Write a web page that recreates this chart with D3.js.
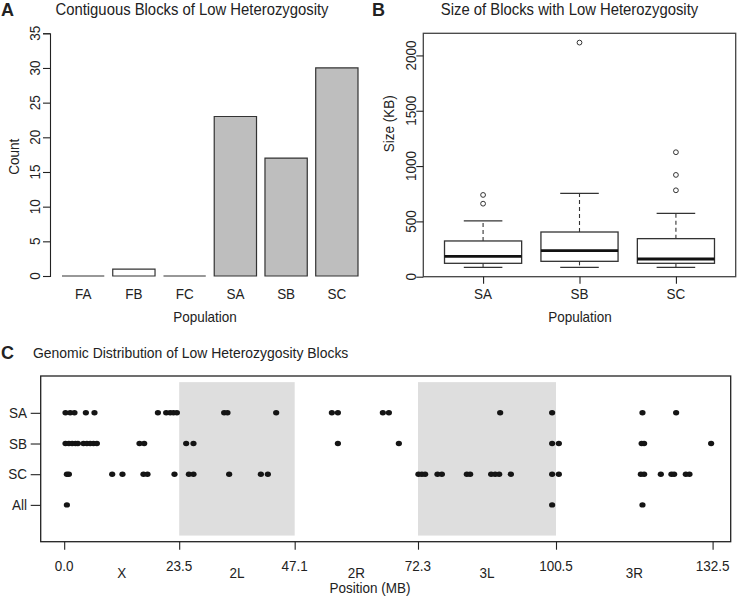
<!DOCTYPE html>
<html>
<head>
<meta charset="utf-8">
<script src="https://cdn.jsdelivr.net/npm/d3@7"></script>
<style>
  html, body { margin: 0; padding: 0; background: #fff; }
  svg { display: block; font-family: "Liberation Sans", Arial, Helvetica, sans-serif; }
</style>
</head>
<body>
<svg id="chart" width="738" height="602"></svg>
<script>
// ---------- Data ----------
// Panel A
const barPops = ["FA", "FB", "FC", "SA", "SB", "SC"];
const barCounts = [0, 1, 0, 23, 17, 30];
const barFill = ["white", "white", "white", "#bebebe", "#bebebe", "#bebebe"];
const countTicks = [0, 5, 10, 15, 20, 25, 30, 35];

// Panel B
const boxPops = ["SA", "SB", "SC"];
const boxLowerWhisker = [85, 85, 85];
const boxQ1 = [121, 139, 121];
const boxMedian = [184, 235, 160];
const boxQ3 = [323, 404, 344];
const boxUpperWhisker = [505, 754, 573];
const outliersSA = [660, 739];
const outliersSB = [2116];
const outliersSC = [781, 920, 1125];
const sizeTicks = [0, 500, 1000, 1500, 2000];

// Panel C
const rowNames = ["SA", "SB", "SC", "All"];
const rowLevels = [4, 3, 2, 1];
const armBreaks = [0.0, 23.5, 47.1, 72.3, 100.5, 132.5];
const armBreakLabels = ["0.0", "23.5", "47.1", "72.3", "100.5", "132.5"];
const armNames = ["X", "2L", "2R", "3L", "3R"];
const armShaded = [false, true, false, true, false];
const posSA = [0.27, 1.23, 2.1, 4.43, 6.19, 19.15, 20.84, 21.66, 22.33, 23.03, 32.69, 33.37, 43.32,
  54.7, 55.93, 65.12, 66.35, 89.09, 99.71, 118.17, 125.05];
const posSB = [0.27, 0.96, 1.63, 2.31, 2.8, 3.94, 4.64, 5.31, 5.99, 6.68, 15.39, 16.35, 24.93, 26.42,
  55.93, 68.39, 99.71, 101.08, 118.0, 118.5, 132.2];
const posSC = [0.55, 0.96, 9.81, 11.91, 16.2, 17.02, 22.54, 25.48, 26.42, 33.71, 40.19, 41.62,
  72.39, 73.09, 73.76, 76.28, 77.18, 82.28, 82.96, 87.25, 88.07, 88.89, 91.28, 99.71, 101.08,
  117.84, 118.51, 121.92, 124.09, 124.64, 127.03, 127.77];
const posAll = [0.55, 99.71, 118.17];

// ---------- Drawing ----------
const svg = d3.select("#chart");
const ink = "#222";
const tickFont = 15;
const squeeze = 0.9;   // reference glyphs are tall and narrow

function txt(g, x, y, s, o = {}) {
  const rot = o.rotate ? ` rotate(${o.rotate})` : "";
  const sx = o.sx || squeeze;
  return g.append("text")
    .attr("transform", `translate(${x},${y})${rot} scale(${sx},1)`)
    .attr("text-anchor", o.anchor || "middle")
    .attr("dy", o.dy || null)
    .attr("font-size", o.size || tickFont)
    .attr("font-weight", o.weight || null)
    .attr("fill", ink)
    .text(s);
}

// ===== Panel A =====
const gA = svg.append("g");
const xA = d3.scaleBand().domain(barPops).range([62, 358]).paddingInner(0.2 / 1.2).paddingOuter(0);
const yA = d3.scaleLinear().domain([0, 35]).range([276, 33.3]);

gA.selectAll("path.bar").data(barPops).join("path")
  .attr("class", "bar")
  .attr("d", (d, i) => {
    const x0 = xA(d), x1 = xA(d) + xA.bandwidth(), y0 = yA(0), y1 = yA(barCounts[i]);
    return `M${x0},${y0}V${y1}H${x1}V${y0}Z`;
  })
  .attr("fill", (d, i) => barFill[i])
  .attr("stroke", "#333").attr("stroke-width", 1.2);

const axA = gA.append("g").attr("transform", "translate(50,0)")
  .call(d3.axisLeft(yA).tickValues(countTicks).tickSize(7));
axA.select(".domain").attr("stroke", ink).attr("stroke-width", 1.1);
axA.selectAll(".tick line").attr("stroke", ink).attr("stroke-width", 1.1);
axA.selectAll(".tick text").remove();
countTicks.forEach(v => txt(gA, 35, yA(v), v, { rotate: -90, dy: "0.35em" }));
barPops.forEach(p => txt(gA, xA(p) + xA.bandwidth() / 2, 298.5, p));
txt(gA, 205, 321.5, "Population");
txt(gA, 13.5, 156.7, "Count", { rotate: -90, dy: "0.35em" });
txt(gA, 192, 14.5, "Contiguous Blocks of Low Heterozygosity", { size: 16.5, sx: 0.9 });
txt(gA, 1, 16, "A", { anchor: "start", size: 18, weight: "bold", sx: 1 });

// ===== Panel B =====
const gB = svg.append("g");
const xB = d3.scaleLinear().domain([0.38, 3.62]).range([423.3, 735.7]);
const yB = d3.scaleLinear().domain([0, 2200]).range([276.7, 33.3]);
const boxW = 0.8, capW = 0.4;
const outliers = [outliersSA, outliersSB, outliersSC];

boxPops.forEach((p, i) => {
  const c = i + 1;
  gB.append("line").attr("x1", xB(c)).attr("x2", xB(c))
    .attr("y1", yB(boxQ3[i])).attr("y2", yB(boxUpperWhisker[i]))
    .attr("stroke", "#333").attr("stroke-width", 1.1).attr("stroke-dasharray", "4,3");
  gB.append("line").attr("x1", xB(c)).attr("x2", xB(c))
    .attr("y1", yB(boxQ1[i])).attr("y2", yB(boxLowerWhisker[i]))
    .attr("stroke", "#333").attr("stroke-width", 1.1).attr("stroke-dasharray", "4,3");
  [boxUpperWhisker[i], boxLowerWhisker[i]].forEach(v => {
    gB.append("line").attr("x1", xB(c - capW / 2)).attr("x2", xB(c + capW / 2))
      .attr("y1", yB(v)).attr("y2", yB(v)).attr("stroke", "#333").attr("stroke-width", 1.3);
  });
  gB.append("rect").attr("x", xB(c - boxW / 2)).attr("width", xB(c + boxW / 2) - xB(c - boxW / 2))
    .attr("y", yB(boxQ3[i])).attr("height", yB(boxQ1[i]) - yB(boxQ3[i]))
    .attr("fill", "white").attr("stroke", "#333").attr("stroke-width", 1.3);
  gB.append("line").attr("x1", xB(c - boxW / 2)).attr("x2", xB(c + boxW / 2))
    .attr("y1", yB(boxMedian[i])).attr("y2", yB(boxMedian[i]))
    .attr("stroke", "#111").attr("stroke-width", 2.8);
  gB.selectAll(null).data(outliers[i]).join("circle")
    .attr("cx", xB(c)).attr("cy", d => yB(d)).attr("r", 2.4)
    .attr("fill", "none").attr("stroke", "#333").attr("stroke-width", 1);
});

gB.append("rect").attr("x", 423.3).attr("y", 33.3).attr("width", 735.7 - 423.3).attr("height", 276.7 - 33.3)
  .attr("fill", "none").attr("stroke", "#444").attr("stroke-width", 1.3);

const ayB = gB.append("g").attr("transform", "translate(423.3,0)")
  .call(d3.axisLeft(yB).tickValues(sizeTicks).tickSize(7));
ayB.select(".domain").remove();
ayB.selectAll(".tick line").attr("stroke", ink).attr("stroke-width", 1.1);
ayB.selectAll(".tick text").remove();
sizeTicks.forEach(v => txt(gB, 410.5, yB(v), v, { rotate: -90, dy: "0.35em" }));
const axB = gB.append("g").attr("transform", "translate(0,276.7)")
  .call(d3.axisBottom(xB).tickValues([1, 2, 3]).tickSize(7));
axB.select(".domain").remove();
axB.selectAll(".tick line").attr("stroke", ink).attr("stroke-width", 1.1);
axB.selectAll(".tick text").remove();
boxPops.forEach((p, i) => txt(gB, xB(i + 1), 298.5, p));
txt(gB, 580, 321.5, "Population");
txt(gB, 388.5, 123.7, "Size (KB)", { rotate: -90, dy: "0.35em" });
txt(gB, 569.5, 14.5, "Size of Blocks with Low Heterozygosity", { size: 16.5, sx: 0.9 });
txt(gB, 372, 16, "B", { anchor: "start", size: 18, weight: "bold", sx: 1 });

// ===== Panel C =====
const gC = svg.append("g");
const xC = d3.scaleLinear().domain([-4.8, 136.2]).range([40.7, 730.7]);
const yC = d3.scaleLinear().domain([-0.2, 5.2]).range([541.7, 376]);

armNames.forEach((a, i) => {
  if (armShaded[i]) {
    gC.append("rect").attr("x", xC(armBreaks[i])).attr("width", xC(armBreaks[i + 1]) - xC(armBreaks[i]))
      .attr("y", yC(5)).attr("height", yC(0) - yC(5)).attr("fill", "#dedede");
  }
});

const dotSets = [posSA, posSB, posSC, posAll];
dotSets.forEach((set, r) => {
  gC.selectAll(null).data(set).join("ellipse")
    .attr("cx", d => xC(d)).attr("cy", yC(rowLevels[r]))
    .attr("rx", 3.1).attr("ry", 2.7).attr("fill", "#151515");
});

gC.append("rect").attr("x", 40.7).attr("y", 376).attr("width", 730.7 - 40.7).attr("height", 541.7 - 376)
  .attr("fill", "none").attr("stroke", ink).attr("stroke-width", 1.3);

const ayC = gC.append("g").attr("transform", "translate(40.7,0)")
  .call(d3.axisLeft(yC).tickValues(rowLevels).tickSize(10));
ayC.select(".domain").remove();
ayC.selectAll(".tick line").attr("stroke", ink).attr("stroke-width", 1.1);
ayC.selectAll(".tick text").remove();
rowLevels.forEach((lv, i) => txt(gC, 27, yC(lv), rowNames[i], { anchor: "end", dy: "0.35em" }));

const axC = gC.append("g").attr("transform", "translate(0,541.7)")
  .call(d3.axisBottom(xC).tickValues(armBreaks).tickSize(8));
axC.select(".domain").remove();
axC.selectAll(".tick line").attr("stroke", ink).attr("stroke-width", 1.1);
axC.selectAll(".tick text").remove();
armBreaks.forEach((b, i) => txt(gC, xC(b), 570.5, armBreakLabels[i]));
armNames.forEach((a, i) => txt(gC, xC((armBreaks[i] + armBreaks[i + 1]) / 2), 577.5, a));
txt(gC, 370, 593, "Position (MB)");
txt(gC, 33, 358, "Genomic Distribution of Low Heterozygosity Blocks", { anchor: "start", size: 15.5, sx: 0.9 });
txt(gC, 1, 359, "C", { anchor: "start", size: 18, weight: "bold", sx: 1 });
</script>
</body>
</html>
